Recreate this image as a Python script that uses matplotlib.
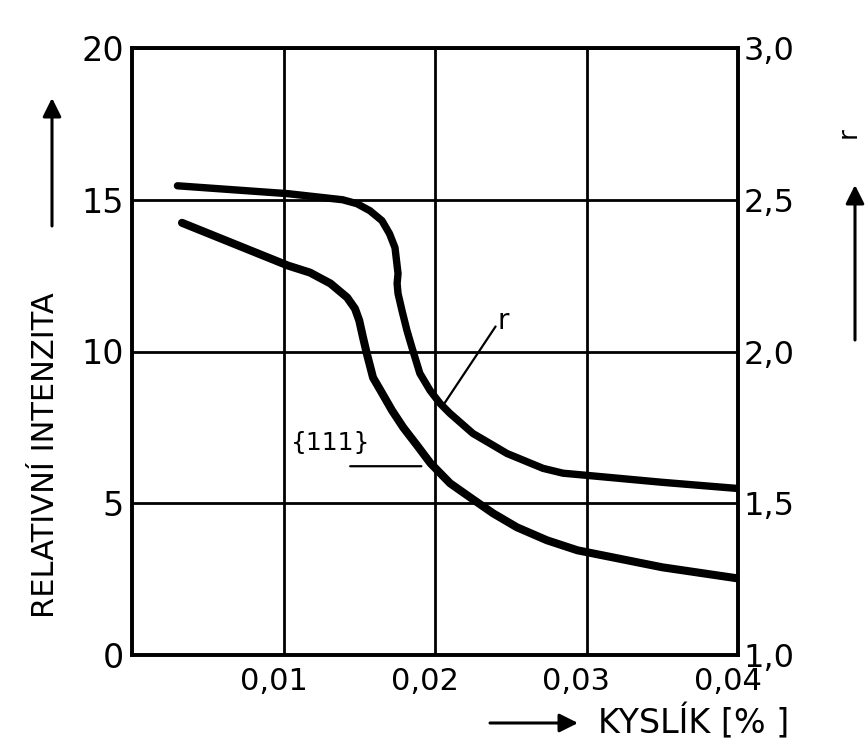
import matplotlib
matplotlib.use('Agg')
import matplotlib.pyplot as plt
from matplotlib.transforms import ScaledTranslation

# kyslik [%] vs relative intensity {111} (left axis) and r (right axis)
x_111 = [0.0033, 0.0103, 0.01175, 0.0131, 0.0142, 0.01472, 0.0150, 0.01525,
         0.0155, 0.01591, 0.0164, 0.01716, 0.0179, 0.01881, 0.0197, 0.02099,
         0.0223, 0.02383, 0.0254, 0.02739, 0.0294, 0.0300, 0.0350, 0.0399]
int_111 = [14.24, 12.83, 12.60, 12.24, 11.78, 11.41, 11.02, 10.46,
           9.93, 9.14, 8.72, 8.06, 7.50, 6.91, 6.32, 5.66,
           5.20, 4.67, 4.21, 3.78, 3.45, 3.39, 2.89, 2.53]

x_r = [0.0030, 0.0103, 0.0139, 0.01485, 0.0157, 0.0165, 0.0170, 0.01736,
       0.01756, 0.0175, 0.01756, 0.01782, 0.01815, 0.01848, 0.0190, 0.01967,
       0.02033, 0.02099, 0.0225, 0.02363, 0.02475, 0.02713, 0.02845, 0.0300,
       0.0350, 0.0399]
r_vals = [2.546, 2.520, 2.500, 2.487, 2.464, 2.431, 2.388, 2.342,
          2.257, 2.224, 2.191, 2.135, 2.069, 2.013, 1.928, 1.872,
          1.829, 1.796, 1.730, 1.697, 1.664, 1.615, 1.599, 1.592,
          1.569, 1.549]

x_ticks = [0.01, 0.02, 0.03, 0.04]
x_ticklabels = ['0,01', '0,02', '0,03', '0,04']
left_ticks = [0, 5, 10, 15, 20]
right_ticks = [1.0, 1.5, 2.0, 2.5, 3.0]
right_ticklabels = ['1,0', '1,5', '2,0', '2,5', '3,0']

plt.rcParams['font.family'] = ['DejaVu Sans']

W, H = 865, 745
fig = plt.figure(figsize=(W / 100, H / 100), dpi=100)
ax = fig.add_axes([132 / W, 1 - 655 / H, (738 - 132) / W, (655 - 48) / H])
ax2 = ax.twinx()

# Curves
ax.plot(x_111, int_111, color='k', lw=5.8, solid_capstyle='round', solid_joinstyle='round')
ax2.plot(x_r, r_vals, color='k', lw=5.3, solid_capstyle='round', solid_joinstyle='round')

# Axes
ax.set_xlim(0, 0.04)
ax.set_ylim(0, 20)
ax2.set_ylim(1.0, 3.0)

ax.set_xticks(x_ticks)
ax.set_xticklabels(x_ticklabels, fontsize=22)
ax.set_yticks(left_ticks)
ax.set_yticklabels([str(v) for v in left_ticks], fontsize=24)
ax2.set_yticks(right_ticks)
ax2.set_yticklabels(right_ticklabels, fontsize=23)

ax.tick_params(axis='both', length=0)
ax.tick_params(axis='x', pad=9)
ax.tick_params(axis='y', pad=6)
ax2.tick_params(axis='y', length=0, pad=4)

for lab in ax.get_xticklabels():
    lab.set_transform(lab.get_transform() + ScaledTranslation(-0.10, 0, fig.dpi_scale_trans))

ax.grid(True, color='k', lw=2.0)
for a in (ax, ax2):
    for s in a.spines.values():
        s.set_linewidth(2.6)

# Annotations
ax.text(0.0245, 11.0, 'r', fontsize=20, ha='center', va='center')
ax.annotate('', xy=(0.0205, 8.2), xytext=(0.0241, 10.9),
            arrowprops=dict(arrowstyle='-', lw=1.6, color='k'))
ax.text(0.0131, 7.0, '{111}', fontsize=18, ha='center', va='center')
ax.annotate('', xy=(0.0191, 6.22), xytext=(0.0144, 6.22),
            arrowprops=dict(arrowstyle='-', lw=1.6, color='k',
                            shrinkA=0, shrinkB=0))

# Axis titles with arrows (figure pixels)
fig.text(46 / W, 1 - 455 / H, 'RELATIVNÍ INTENZITA', rotation=90,
         fontsize=22, ha='center', va='center')
fig.text(849 / W, 1 - 133 / H, 'r', rotation=90, fontsize=19,
         ha='center', va='center')
fig.text(598 / W, 1 - 722 / H, 'KYSLÍK [% ]', fontsize=24,
         ha='left', va='center')

arrow_kw = dict(arrowstyle='-|>', lw=2.2, color='k', mutation_scale=28,
                shrinkA=0, shrinkB=0)
fig_px = 'figure pixels'
ax.annotate('', xy=(52, H - 98), xytext=(52, H - 226), xycoords=fig_px,
            textcoords=fig_px, arrowprops=arrow_kw)
ax.annotate('', xy=(855, H - 185), xytext=(855, H - 340), xycoords=fig_px,
            textcoords=fig_px, arrowprops=arrow_kw)
ax.annotate('', xy=(578, H - 723), xytext=(490, H - 723), xycoords=fig_px,
            textcoords=fig_px, arrowprops=arrow_kw)

fig.savefig('out.png', dpi=100)
